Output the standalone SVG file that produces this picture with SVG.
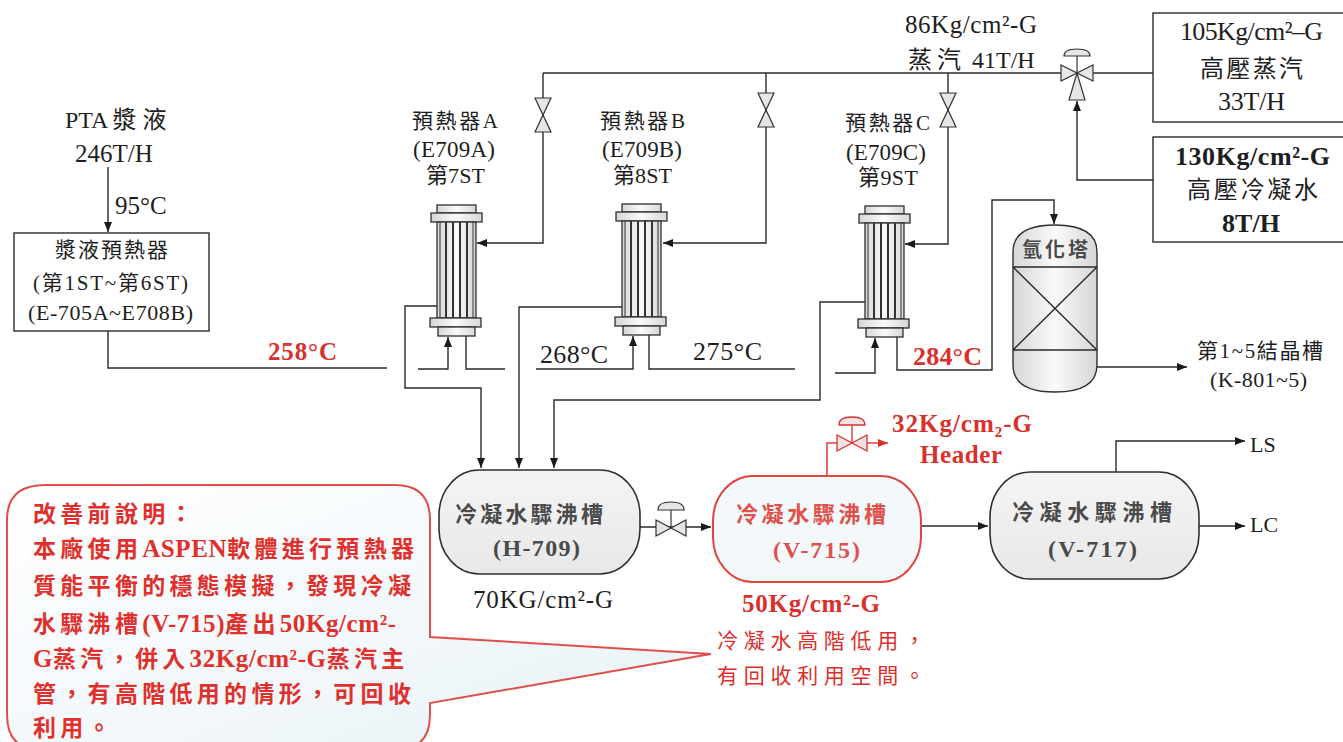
<svg xmlns="http://www.w3.org/2000/svg" width="1343" height="742" viewBox="0 0 1343 742">
<style>
.ln{fill:none;stroke:#2a2a2a;stroke-width:1.4}
.rl{fill:none;stroke:#e0443f;stroke-width:1.6}
.t{font-family:'Liberation Serif','Noto Sans CJK TC',serif;fill:#1e1e1e}
.c{font-family:'Noto Sans CJK TC','Liberation Serif',sans-serif;fill:#1e1e1e}
.b{font-weight:bold}
.red{fill:#d9302c}
.tk{font-family:'Noto Sans CJK TC','Liberation Serif',sans-serif;font-weight:bold;fill:#4a4a4a}
.hxp{fill:url(#hxg);stroke:#2f2f2f;stroke-width:1.3}
.tube{stroke:#333;stroke-width:2}
.vl{fill:#e6e6e6;stroke:#333;stroke-width:1.2}
.vr{fill:#f3e2e2;stroke:#d9302c;stroke-width:1.3}
.ct{font-family:'Noto Sans CJK TC','Liberation Serif',sans-serif;font-weight:bold;fill:#e0302c;font-size:23px;letter-spacing:4.3px}
.cl{font-family:'Liberation Serif','Noto Sans CJK TC',serif;font-weight:bold;fill:#e0302c;font-size:25px;letter-spacing:0.6px}
</style>
<defs>
<linearGradient id="hxg" x1="0" y1="0" x2="1" y2="0">
<stop offset="0" stop-color="#d6d6d6"/><stop offset="0.5" stop-color="#fafafa"/><stop offset="1" stop-color="#d6d6d6"/>
</linearGradient>
<linearGradient id="tkg" x1="0" y1="0" x2="0" y2="1">
<stop offset="0" stop-color="#f4f4f4"/><stop offset="1" stop-color="#e8e8e8"/>
</linearGradient>
<linearGradient id="clg" x1="0" y1="0" x2="1" y2="1">
<stop offset="0" stop-color="#ffffff"/><stop offset="0.6" stop-color="#f1f7fa"/><stop offset="1" stop-color="#e8f2f7"/>
</linearGradient>
<marker id="ar" viewBox="0 0 10 8" refX="10" refY="4" markerWidth="10" markerHeight="8" markerUnits="userSpaceOnUse" orient="auto">
<path d="M0,0 L10,4 L0,8 z" fill="#1a1a1a"/>
</marker>
<marker id="arr" viewBox="0 0 10 8" refX="10" refY="4" markerWidth="10" markerHeight="8" markerUnits="userSpaceOnUse" orient="auto">
<path d="M0,0 L10,4 L0,8 z" fill="#d9302c"/>
</marker>
<g id="hx">
<rect class="hxp" x="0" y="0" width="39" height="8"/>
<rect class="hxp" x="-6" y="8" width="51" height="9"/>
<rect class="hxp" x="0" y="17" width="39" height="96"/>
<line class="tube" x1="3" y1="17" x2="3" y2="113" style="stroke-width:1"/>
<line class="tube" x1="36" y1="17" x2="36" y2="113" style="stroke-width:1"/>
<line class="tube" x1="9" y1="17" x2="9" y2="113"/>
<line class="tube" x1="16" y1="17" x2="16" y2="113"/>
<line class="tube" x1="23" y1="17" x2="23" y2="113"/>
<line class="tube" x1="30" y1="17" x2="30" y2="113"/>
<rect class="hxp" x="-7" y="113" width="51" height="9"/>
<rect class="hxp" x="1" y="122" width="37" height="9"/>
</g>
<g id="gv">
<polygon points="-8,-17 8,-17 0,0"/>
<polygon points="-8,17 8,17 0,0"/>
</g>
<g id="cv">
<line x1="0" y1="0" x2="0" y2="-18"/>
<polygon points="-15,-8 -15,8 0,0"/>
<polygon points="15,-8 15,8 0,0"/>
<path d="M-13,-18 Q-13,-26 0,-26 Q13,-26 13,-18 Z"/>
</g>
</defs>
<rect width="1343" height="742" fill="#ffffff"/>

<g id="connectors">
<path class="ln" d="M108,167 V232" marker-end="url(#ar)"/>
<path class="ln" d="M108,331 V368 H387"/>
<path class="ln" d="M418,369 H448 V337" marker-end="url(#ar)"/>
<path class="ln" d="M466,336 V369 H505"/>
<path class="ln" d="M536,369 H633 V336" marker-end="url(#ar)"/>
<path class="ln" d="M649,335 V369 H795"/>
<path class="ln" d="M835,373 H875 V338" marker-end="url(#ar)"/>
<path class="ln" d="M897,337 V370 H992 V200 H1054 V224" marker-end="url(#ar)"/>
<path class="ln" d="M543,73 H1061"/>
<path class="ln" d="M543,73 V243 H477" marker-end="url(#ar)"/>
<path class="ln" d="M766,73 V243 H663" marker-end="url(#ar)"/>
<path class="ln" d="M948,73 V244 H905" marker-end="url(#ar)"/>
<path class="ln" d="M1093,73 H1153"/>
<path class="ln" d="M1153,180 H1077 V101" marker-end="url(#ar)"/>
<path class="ln" d="M437,306 H405 V388 H481 V468" marker-end="url(#ar)"/>
<path class="ln" d="M622,307 H519 V468" marker-end="url(#ar)"/>
<path class="ln" d="M866,302 H820 V400 H554 V468" marker-end="url(#ar)"/>
<path class="ln" d="M640,527 H711" marker-end="url(#ar)"/>
<path class="rl" d="M827,476 V443 H888" marker-end="url(#arr)"/>
<path class="ln" d="M921,526 H988" marker-end="url(#ar)"/>
<path class="ln" d="M1116,472 V441 H1245" marker-end="url(#ar)"/>
<path class="ln" d="M1199,526 H1245" marker-end="url(#ar)"/>
<path class="ln" d="M1097,367 H1187" marker-end="url(#ar)"/>
</g>

<g id="valves">
<use href="#gv" x="543" y="115" class="vl"/>
<use href="#gv" x="766" y="110" class="vl"/>
<use href="#gv" x="948" y="110" class="vl"/>
<use href="#cv" x="671" y="528" class="vl"/>
<use href="#cv" x="852" y="443" class="vr"/>
<g id="valve3" class="vl">
<line x1="1077" y1="56" x2="1077" y2="73"/>
<polygon points="1061,65 1061,81 1077,73"/>
<polygon points="1093,65 1093,81 1077,73"/>
<polygon points="1069,100 1085,100 1077,73"/>
<path d="M1064,56 Q1064,49 1077,49 Q1090,49 1090,56 Z"/>
</g>
</g>

<g id="pta">
<text class="t" x="65" y="128" font-size="24">PTA<tspan dx="4" letter-spacing="6">漿液</tspan></text>
<text class="t" x="75" y="162" font-size="25">246T/H</text>
<text class="t" x="115" y="214" font-size="25">95°C</text>
</g>
<g id="slurry-preheater">
<rect x="14" y="233" width="195" height="98" fill="#ffffff" stroke="#2a2a2a" stroke-width="1.4"/>
<text class="t" x="55" y="257" font-size="21" textLength="113">漿液預熱器</text>
<text class="t" x="33" y="290" font-size="21" textLength="155">(第1ST~第6ST)</text>
<text class="t" x="28" y="320" font-size="22" textLength="165">(E-705A~E708B)</text>
</g>
<text class="t b red" x="268" y="360" font-size="25" textLength="69">258°C</text>
<text class="t" x="540" y="363" font-size="26" textLength="68">268°C</text>
<text class="t" x="693" y="360" font-size="26" textLength="69">275°C</text>
<text class="t b red" x="913" y="365" font-size="26" textLength="69">284°C</text>

<g id="hxA">
<use href="#hx" x="437" y="205"/>
<text class="t" x="412" y="128" font-size="21" textLength="86">預熱器A</text>
<text class="t" x="413" y="157" font-size="23" textLength="82">(E709A)</text>
<text class="t" x="426" y="183" font-size="22" textLength="59">第7ST</text>
</g>
<g id="hxB">
<use href="#hx" x="622" y="204"/>
<text class="t" x="600" y="128" font-size="21" textLength="85">預熱器B</text>
<text class="t" x="602" y="157" font-size="23" textLength="80">(E709B)</text>
<text class="t" x="613" y="183" font-size="22" textLength="59">第8ST</text>
</g>
<g id="hxC">
<use href="#hx" x="865" y="206"/>
<text class="t" x="845" y="130" font-size="21" textLength="85">預熱器C</text>
<text class="t" x="846" y="160" font-size="23" textLength="80">(E709C)</text>
<text class="t" x="858" y="185" font-size="22" textLength="60">第9ST</text>
</g>

<g id="steam-header">
<text class="t" x="905" y="33" font-size="25" textLength="132">86Kg/cm²-G</text>
<text class="t" x="908" y="68" font-size="24"><tspan letter-spacing="5">蒸汽</tspan> 41T/H</text>
</g>
<g id="hp-steam">
<rect x="1153" y="13" width="200" height="109" fill="#ffffff" stroke="#2a2a2a" stroke-width="1.4"/>
<text class="t" x="1180" y="40" font-size="26" textLength="143">105Kg/cm²–G</text>
<text class="t" x="1200" y="77" font-size="24" textLength="103">高壓蒸汽</text>
<text class="t" x="1218" y="110" font-size="26" textLength="67">33T/H</text>
</g>
<g id="hp-condensate">
<rect x="1153" y="137" width="200" height="105" fill="#ffffff" stroke="#2a2a2a" stroke-width="1.4"/>
<text class="t b" x="1175" y="165" font-size="26" textLength="155">130Kg/cm²-G</text>
<text class="t" x="1187" y="198" font-size="24" textLength="131">高壓冷凝水</text>
<text class="t b" x="1222" y="232" font-size="26" textLength="58">8T/H</text>
</g>

<g id="tower">
<path d="M1013,252 Q1013,225 1055,225 Q1097,225 1097,252 V365 Q1097,392 1055,392 Q1013,392 1013,365 Z" fill="url(#hxg)" stroke="#2f2f2f" stroke-width="1.4"/>
<path class="ln" d="M1013,267 H1097 M1013,350 H1097 M1013,267 L1097,350 M1097,267 L1013,350"/>
<text class="tk" x="1022" y="257" font-size="20" textLength="66">氫化塔</text>
</g>
<g id="crystallizer">
<text class="t" x="1197" y="358" font-size="21" textLength="126">第1~5結晶槽</text>
<text class="t" x="1210" y="387" font-size="22" textLength="97">(K-801~5)</text>
</g>

<g id="H-709">
<rect x="439" y="470" width="201" height="104" rx="40" ry="45" fill="url(#tkg)" stroke="#2f2f2f" stroke-width="1.6"/>
<text class="tk" x="455" y="522" font-size="22" textLength="148">冷凝水驟沸槽</text>
<text class="t b" x="493" y="556" font-size="24" textLength="87" style="fill:#4a4a4a">(H-709)</text>
<text class="t" x="473" y="608" font-size="25" textLength="140">70KG/cm²-G</text>
</g>
<g id="V-715">
<rect x="713" y="476" width="208" height="106" rx="40" ry="45" fill="#f3f8fa" stroke="#e0443f" stroke-width="2"/>
<text class="tk" x="736" y="522" font-size="22" textLength="150" style="fill:#e0504b">冷凝水驟沸槽</text>
<text class="t b" x="773" y="558" font-size="24" textLength="87" style="fill:#e0504b">(V-715)</text>
<text class="t b red" x="742" y="612" font-size="25" textLength="138">50Kg/cm²-G</text>
<text class="c red" x="717" y="648" font-size="21" textLength="208">冷凝水高階低用，</text>
<text class="c red" x="717" y="683" font-size="21" textLength="208">有回收利用空間。</text>
</g>
<g id="header32">
<text class="t b red" x="892" y="432" font-size="25" textLength="140">32Kg/cm₂-G</text>
<text class="t b red" x="920" y="463" font-size="25" textLength="82">Header</text>
</g>
<g id="V-717">
<rect x="990" y="472" width="209" height="107" rx="40" ry="45" fill="url(#tkg)" stroke="#2f2f2f" stroke-width="1.6"/>
<text class="tk" x="1012" y="520" font-size="22" textLength="160">冷凝水驟沸槽</text>
<text class="t b" x="1048" y="557" font-size="24" textLength="89" style="fill:#4a4a4a">(V-717)</text>
</g>
<text class="t" x="1250" y="452" font-size="22">LS</text>
<text class="t" x="1250" y="532" font-size="22">LC</text>

<g id="callout">
<path d="M45,485 H395 Q430,485 430,520 V637 L711,654 L430,703 V715 Q430,750 395,750 H42 Q7,750 7,715 V520 Q7,485 45,485 Z" fill="url(#clg)" stroke="#e0504b" stroke-width="2"/>
<text class="ct" x="33" y="522">改善前說明：</text>
<text class="ct" x="33" y="557">本廠使用<tspan class="cl">ASPEN</tspan>軟體進行預熱器</text>
<text class="ct" x="33" y="594">質能平衡的穩態模擬，發現冷凝</text>
<text class="ct" x="33" y="632">水驟沸槽<tspan class="cl" letter-spacing="2">(V-715)</tspan>產出<tspan class="cl" letter-spacing="2.5">50Kg/cm²-</tspan></text>
<text class="ct" x="33" y="667"><tspan class="cl">G</tspan>蒸汽，併入<tspan class="cl" letter-spacing="1">32Kg/cm²-G</tspan>蒸汽主</text>
<text class="ct" x="33" y="702">管，有高階低用的情形，可回收</text>
<text class="ct" x="33" y="736">利用。</text>
</g>
</svg>
